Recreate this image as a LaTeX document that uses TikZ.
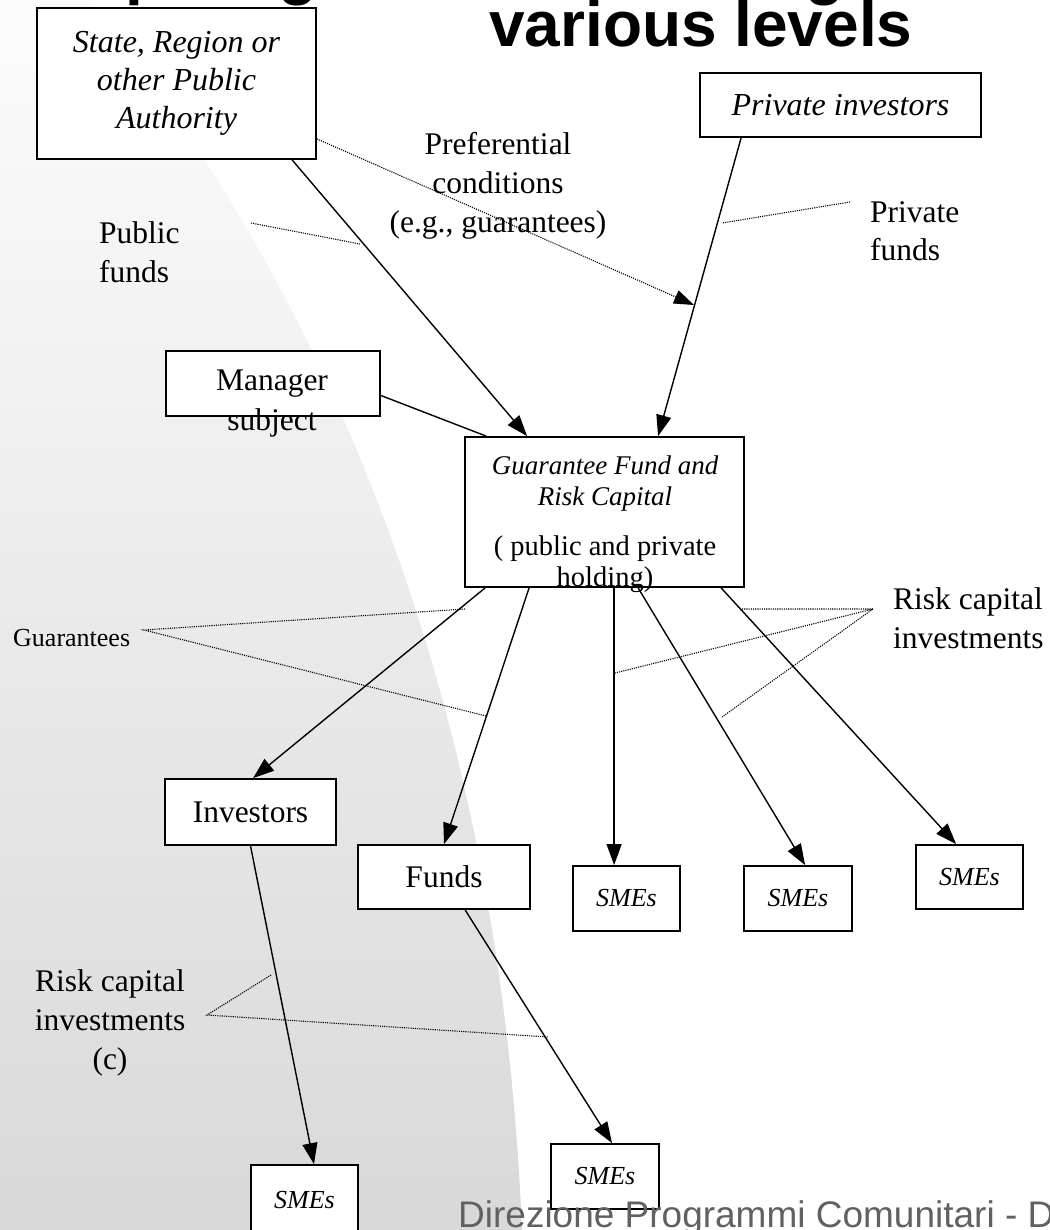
\documentclass[tikz,border=0pt]{standalone}
\usepackage{fontspec}
\setmainfont{Liberation Serif}
\newfontfamily\headfont{Liberation Sans}
\usetikzlibrary{arrows.meta,calc}
\begin{document}
\begin{tikzpicture}[x=1pt,y=-1pt,
  box/.style={draw,line width=1.8pt,fill=white,inner sep=0pt,rectangle},
  boxtext/.style={align=center,font=\fontsize{32}{38}\selectfont\itshape},
  lbl/.style={inner sep=0pt,font=\fontsize{31.5}{38.5}\selectfont},
  sme/.style={box,minimum width=107pt,minimum height=65pt,font=\fontsize{26}{30}\selectfont\itshape},
  plainbox/.style={box,font=\fontsize{31.5}{38}\selectfont},
  flow/.style={line width=1.4pt,-{Triangle[length=21pt,width=15pt]}},
  link/.style={line width=1.4pt},
  callout/.style={line width=1.1pt,dash pattern=on 1.1pt off 1.1pt},
]
\useasboundingbox (0,0) rectangle (1049,1230);
\clip (0,0) rectangle (1049,1230);

% slide background swoosh
\shade[top color=black!1,bottom color=black!15]
  (0,0) -- (90,0) .. controls (330,300) and (500,700) .. (522,1230) -- (0,1230) -- cycle;

% slide title (first line runs off the top edge)
\node[anchor=base west,inner sep=0pt,font=\headfont\bfseries\fontsize{64}{64}\selectfont]
  (title1) at (-70,-7) {Participating and co-investing at};
\node[anchor=base west,inner sep=0pt,font=\headfont\bfseries\fontsize{64}{64}\selectfont]
  (title2) at (489,47) {various levels};

% boxes
\node[box,boxtext,minimum width=279pt,minimum height=151pt] (state) at (176.5,83.5)
  {State, Region or\\other Public\\Authority};
\node[box,boxtext,minimum width=281pt,minimum height=64pt] (priv) at (840.5,105)
  {Private investors};
\node[box,minimum width=214pt,minimum height=65pt] (mgr) at (273,383.5) {};
\node[lbl,align=center,font=\fontsize{31.5}{40}\selectfont] (mgrtext) at (272,404) {Manager\\subject};

\node[box,minimum width=279pt,minimum height=150pt] (gf) at (604.5,512) {};
\node[inner sep=0pt,align=center,font=\fontsize{27}{31}\selectfont\itshape] (gftop) at (605,484)
  {Guarantee Fund and\\Risk Capital};
\node[inner sep=0pt,align=center,font=\fontsize{28.5}{31}\selectfont] (gfbot) at (605,564)
  {( public and private\\holding)};

\node[plainbox,minimum width=171pt,minimum height=66pt] (inv) at (250.5,812) {Investors};
\node[plainbox,minimum width=172pt,minimum height=64pt] (funds) at (444,877) {Funds};
\node[sme] (smeA) at (626.5,898.5) {SMEs};
\node[sme,minimum width=108pt] (smeB) at (798,898.5) {SMEs};
\node[sme,minimum height=64pt] (smeC) at (969.5,877) {SMEs};
\node[sme,minimum height=70pt] (smeD) at (304.5,1200) {};
\node[inner sep=0pt,font=\fontsize{26}{30}\selectfont\itshape] (smeDtext) at (304.5,1200) {SMEs};
\node[sme,minimum width=108pt] (smeE) at (605,1176.5) {SMEs};

% free-standing labels
\node[lbl,align=center,font=\fontsize{31.5}{39}\selectfont] (pref) at (498,186)
  {Preferential\\conditions\\(e.g., guarantees)};
\node[lbl,align=left,anchor=west] (pubf) at (99,252) {Public\\funds};
\node[lbl,align=left,anchor=west] (privf) at (870,231) {Private\\funds};
\node[inner sep=0pt,anchor=west,font=\fontsize{26}{30}\selectfont] (guar) at (13,638) {Guarantees};
\node[lbl,align=left,anchor=west] (rcr) at (893,618) {Risk capital\\investments};
\node[lbl,align=center,font=\fontsize{31.5}{39}\selectfont] (rcl) at (110,1023)
  {Risk capital\\investments\\(c)};

% money flows
\draw[flow] ([xshift=256pt]state.south west) -- ([xshift=63pt]gf.north west);
\draw[flow] ([xshift=42pt]priv.south west) -- ([xshift=194pt]gf.north west);
\draw[link] ([yshift=-12pt]mgr.east) -- ([xshift=22pt]gf.north west);
\draw[flow] ([xshift=21pt]gf.south west) -- ([xshift=89pt]inv.north west);
\draw[flow] ([xshift=65pt]gf.south west) -- (funds.north);
\draw[flow] ([xshift=150pt]gf.south west) -- ([xshift=42pt]smeA.north west);
\draw[flow] ([xshift=174pt]gf.south west) -- ([xshift=62pt]smeB.north west);
\draw[flow] ([xshift=257pt]gf.south west) -- ([xshift=41pt]smeC.north west);
\draw[flow] (inv.south) -- ([xshift=9.5pt]smeD.north);
\draw[flow] ([xshift=108pt]funds.south west) -- ([xshift=7pt]smeE.north);

% callout lines
\coordinate (pubA) at (251,223);
\coordinate (pubB) at (360,244);
\draw[callout] (pubA) -- (pubB);

\coordinate (prefB) at (694,305);
\draw[callout,-{Triangle[length=20pt,width=14pt]}] ([yshift=21pt]state.south east) -- (prefB);

\coordinate (privA) at (850,202);
\coordinate (privB) at (722,223);
\draw[callout] (privA) -- (privB);

\coordinate (guarA) at (144,630);
\coordinate (guarB) at (465,609);
\coordinate (guarC) at (486,716);
\draw[callout] (guarB) -- (guarA) -- (guarC);

\coordinate (rcrA) at (873,609);
\coordinate (rcrB) at (742,609);
\coordinate (rcrC) at (615,673);
\coordinate (rcrD) at (722,717);
\draw[callout] (rcrB) -- (rcrA) -- (rcrC);
\draw[callout] (rcrA) -- (rcrD);

\coordinate (rclA) at (207,1015);
\coordinate (rclB) at (271,975);
\coordinate (rclC) at (548,1037);
\draw[callout] (rclB) -- (rclA) -- (rclC);

% footer
\node[anchor=base west,inner sep=0pt,text=black!62,font=\headfont\fontsize{37}{37}\selectfont]
  (foot) at (458,1227) {Direzione Programmi Comunitari - D};
\end{tikzpicture}
\end{document}
